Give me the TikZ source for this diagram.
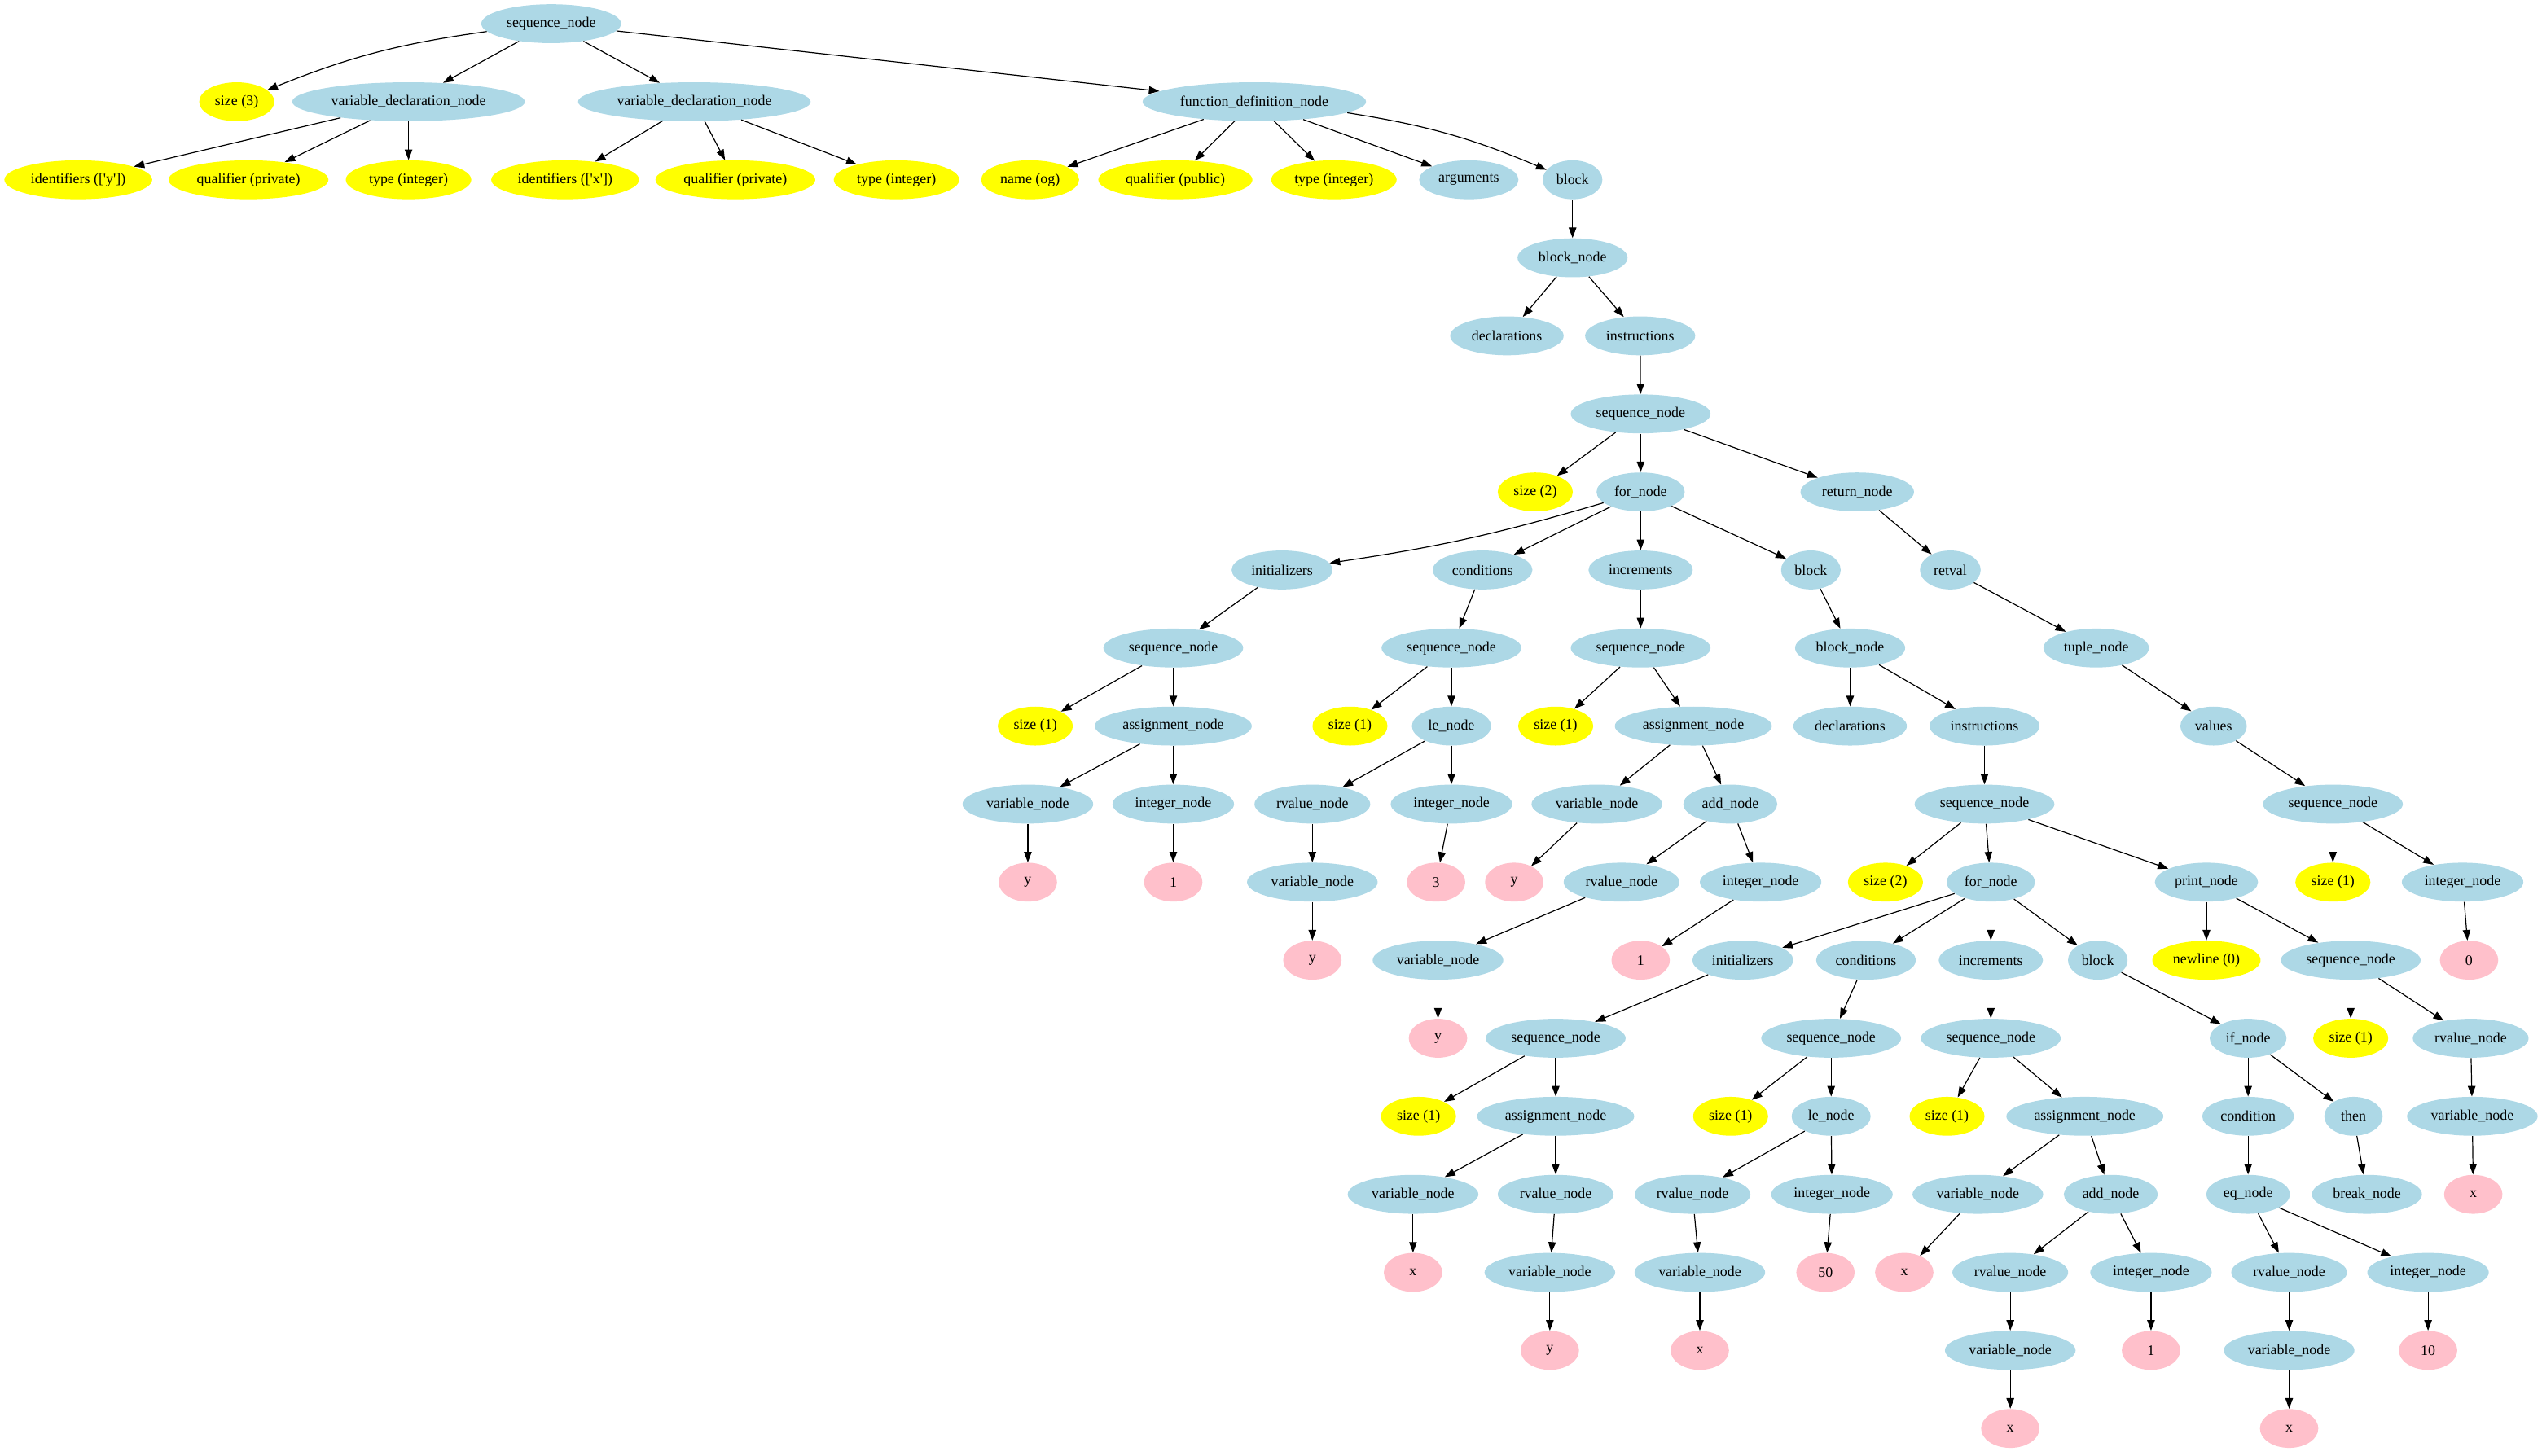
\documentclass[tikz,border=0pt]{standalone}
\usepackage{fontspec}
\setmainfont{Liberation Serif}
\usetikzlibrary{shapes.geometric,arrows.meta}
\definecolor{lb}{HTML}{ADD8E6}
\definecolor{yl}{HTML}{FFFF00}
\definecolor{pk}{HTML}{FFC0CB}
\tikzset{
  base/.style={ellipse, minimum width=36pt, minimum height=24pt, inner xsep=3pt, inner ysep=1pt, font=\fontsize{9}{10}\selectfont},
  bn/.style={base, fill=lb},
  yn/.style={base, fill=yl},
  pn/.style={base, fill=pk},
  edge/.style={-{Triangle[length=6.5pt,width=4.7pt]}, line width=0.6pt},
}
\newcommand{\q}{\textquotesingle}
\begin{document}
\begin{tikzpicture}[x=1pt,y=-1pt]
\useasboundingbox (0,0) rectangle (1568,897.8);
% row 1
\node[bn] (seqA) at (340,14.6) {sequence\_node};
% row 2
\node[yn] (size3) at (146,62.75) {size (3)};
\node[bn] (vdn1) at (252,62.75) {variable\_declaration\_node};
\node[bn] (vdn2) at (428.3,62.75) {variable\_declaration\_node};
\node[bn] (fdn) at (773.7,62.75) {function\_definition\_node};
% row 3
\node[yn] (idy) at (48.3,110.9) {identifiers ([\q y\q])};
\node[yn] (qpr1) at (153.3,110.9) {qualifier (private)};
\node[yn] (tint1) at (252,110.9) {type (integer)};
\node[yn] (idx) at (348.6,110.9) {identifiers ([\q x\q])};
\node[yn] (qpr2) at (453.6,110.9) {qualifier (private)};
\node[yn] (tint2) at (553,110.9) {type (integer)};
\node[yn] (name) at (635.4,110.9) {name (og)};
\node[yn] (qpub) at (725,110.9) {qualifier (public)};
\node[yn] (tint3) at (822.8,110.9) {type (integer)};
\node[bn] (args) at (906,110.9) {arguments};
\node[bn] (block1) at (970,110.9) {block};
% row 4
\node[bn] (bn1) at (970,159.05) {block\_node};
% row 5
\node[bn] (decl1) at (929.5,207.2) {declarations};
\node[bn] (instr1) at (1011.7,207.2) {instructions};
% row 6
\node[bn] (seqB) at (1012,255.35) {sequence\_node};
% row 7
\node[yn] (size2a) at (947,303.5) {size (2)};
\node[bn] (for1) at (1012,303.5) {for\_node};
\node[bn] (ret) at (1145.6,303.5) {return\_node};
% row 8
\node[bn] (init1) at (790.8,351.65) {initializers};
\node[bn] (cond1) at (914.5,351.65) {conditions};
\node[bn] (incr1) at (1012,351.65) {increments};
\node[bn] (block2) at (1117,351.65) {block};
\node[bn] (retval) at (1203,351.65) {retval};
% row 9
\node[bn] (seqC) at (723.7,399.8) {sequence\_node};
\node[bn] (seqD) at (895.3,399.8) {sequence\_node};
\node[bn] (seqE) at (1012,399.8) {sequence\_node};
\node[bn] (bn2) at (1141.2,399.8) {block\_node};
\node[bn] (tuple) at (1293,399.8) {tuple\_node};
% row 10
\node[yn] (size1a) at (638.6,447.95) {size (1)};
\node[bn] (asg1) at (723.7,447.95) {assignment\_node};
\node[yn] (size1b) at (832.7,447.95) {size (1)};
\node[bn] (le1) at (895.3,447.95) {le\_node};
\node[yn] (size1c) at (959.6,447.95) {size (1)};
\node[bn] (asg2) at (1044.5,447.95) {assignment\_node};
\node[bn] (decl2) at (1141.2,447.95) {declarations};
\node[bn] (instr2) at (1224.1,447.95) {instructions};
\node[bn] (values) at (1365.4,447.95) {values};
% row 11
\node[bn] (var1) at (634,496.1) {variable\_node};
\node[bn] (int1) at (723.7,496.1) {integer\_node};
\node[bn] (rv1) at (809.5,496.1) {rvalue\_node};
\node[bn] (int2) at (895.3,496.1) {integer\_node};
\node[bn] (var2) at (985,496.1) {variable\_node};
\node[bn] (add1) at (1067.3,496.1) {add\_node};
\node[bn] (seqF) at (1224.1,496.1) {sequence\_node};
\node[bn] (seqG) at (1439,496.1) {sequence\_node};
% row 12
\node[pn] (y1) at (634,544.25) {y};
\node[pn] (one1) at (723.7,544.25) {1};
\node[bn] (var3) at (809.5,544.25) {variable\_node};
\node[pn] (three) at (885.8,544.25) {3};
\node[pn] (y2) at (934,544.25) {y};
\node[bn] (rv2) at (1000.2,544.25) {rvalue\_node};
\node[bn] (int3) at (1086,544.25) {integer\_node};
\node[yn] (size2b) at (1163,544.25) {size (2)};
\node[bn] (for2) at (1228,544.25) {for\_node};
\node[bn] (print) at (1361,544.25) {print\_node};
\node[yn] (size1d) at (1439,544.25) {size (1)};
\node[bn] (int4) at (1519,544.25) {integer\_node};
% row 13
\node[pn] (y3) at (809.5,592.4) {y};
\node[bn] (var4) at (887,592.4) {variable\_node};
\node[pn] (one2) at (1012,592.4) {1};
\node[bn] (init2) at (1075,592.4) {initializers};
\node[bn] (cond2) at (1151,592.4) {conditions};
\node[bn] (incr2) at (1228,592.4) {increments};
\node[bn] (block3) at (1294,592.4) {block};
\node[yn] (newline) at (1361,592.4) {newline (0)};
\node[bn] (seqH) at (1450,592.4) {sequence\_node};
\node[pn] (zero) at (1523,592.4) {0};
% row 14
\node[pn] (y4) at (887,640.55) {y};
\node[bn] (seqI) at (959.6,640.55) {sequence\_node};
\node[bn] (seqJ) at (1129.5,640.55) {sequence\_node};
\node[bn] (seqK) at (1228,640.55) {sequence\_node};
\node[bn] (if1) at (1386.7,640.55) {if\_node};
\node[yn] (size1e) at (1450,640.55) {size (1)};
\node[bn] (rv3) at (1524,640.55) {rvalue\_node};
% row 15
\node[yn] (size1f) at (875,688.7) {size (1)};
\node[bn] (asg3) at (959.6,688.7) {assignment\_node};
\node[yn] (size1g) at (1067.5,688.7) {size (1)};
\node[bn] (le2) at (1129.5,688.7) {le\_node};
\node[yn] (size1h) at (1201,688.7) {size (1)};
\node[bn] (asg4) at (1286,688.7) {assignment\_node};
\node[bn] (condition) at (1386.7,688.7) {condition};
\node[bn] (then) at (1451.7,688.7) {then};
\node[bn] (var5) at (1525,688.7) {variable\_node};
% row 16
\node[bn] (var6) at (871.6,736.85) {variable\_node};
\node[bn] (rv4) at (959.6,736.85) {rvalue\_node};
\node[bn] (rv5) at (1044,736.85) {rvalue\_node};
\node[bn] (int5) at (1130,736.85) {integer\_node};
\node[bn] (var7) at (1220,736.85) {variable\_node};
\node[bn] (add2) at (1302,736.85) {add\_node};
\node[bn] (eq) at (1386.7,736.85) {eq\_node};
\node[bn] (brk) at (1460,736.85) {break\_node};
\node[pn] (x1) at (1525.6,736.85) {x};
% row 17
\node[pn] (x2) at (871.6,785) {x};
\node[bn] (var8) at (956,785) {variable\_node};
\node[bn] (var9) at (1048.5,785) {variable\_node};
\node[pn] (fifty) at (1126,785) {50};
\node[pn] (x3) at (1174.6,785) {x};
\node[bn] (rv6) at (1240,785) {rvalue\_node};
\node[bn] (int6) at (1326.8,785) {integer\_node};
\node[bn] (rv7) at (1412,785) {rvalue\_node};
\node[bn] (int7) at (1497.7,785) {integer\_node};
% row 18
\node[pn] (y5) at (956,833.15) {y};
\node[pn] (x4) at (1048.5,833.15) {x};
\node[bn] (var10) at (1240,833.15) {variable\_node};
\node[pn] (one3) at (1326.8,833.15) {1};
\node[bn] (var11) at (1412,833.15) {variable\_node};
\node[pn] (ten) at (1497.7,833.15) {10};
% row 19
\node[pn] (x5) at (1240,881.3) {x};
\node[pn] (x6) at (1412,881.3) {x};

% edges
\draw[edge] (seqA) to[bend right=7] (size3);
\foreach \c in {vdn1,vdn2,fdn} \draw[edge] (seqA) -- (\c);
\foreach \c in {idy,qpr1,tint1} \draw[edge] (vdn1) -- (\c);
\foreach \c in {idx,qpr2,tint2} \draw[edge] (vdn2) -- (\c);
\foreach \c in {name,qpub,tint3,args} \draw[edge] (fdn) -- (\c);
\draw[edge] (fdn) to[bend left=7] (block1);
\draw[edge] (block1) -- (bn1);
\foreach \c in {decl1,instr1} \draw[edge] (bn1) -- (\c);
\draw[edge] (instr1) -- (seqB);
\foreach \c in {size2a,for1,ret} \draw[edge] (seqB) -- (\c);
\draw[edge] (for1) to[bend left=4] (init1);
\foreach \c in {cond1,incr1,block2} \draw[edge] (for1) -- (\c);
\draw[edge] (ret) -- (retval);
\draw[edge] (init1) -- (seqC);
\draw[edge] (cond1) -- (seqD);
\draw[edge] (incr1) -- (seqE);
\draw[edge] (block2) -- (bn2);
\draw[edge] (retval) -- (tuple);
\foreach \c in {size1a,asg1} \draw[edge] (seqC) -- (\c);
\foreach \c in {size1b,le1} \draw[edge] (seqD) -- (\c);
\foreach \c in {size1c,asg2} \draw[edge] (seqE) -- (\c);
\foreach \c in {decl2,instr2} \draw[edge] (bn2) -- (\c);
\draw[edge] (tuple) -- (values);
\foreach \c in {var1,int1} \draw[edge] (asg1) -- (\c);
\foreach \c in {rv1,int2} \draw[edge] (le1) -- (\c);
\foreach \c in {var2,add1} \draw[edge] (asg2) -- (\c);
\draw[edge] (instr2) -- (seqF);
\draw[edge] (values) -- (seqG);
\draw[edge] (var1) -- (y1);
\draw[edge] (int1) -- (one1);
\draw[edge] (rv1) -- (var3);
\draw[edge] (int2) -- (three);
\draw[edge] (var2) -- (y2);
\foreach \c in {rv2,int3} \draw[edge] (add1) -- (\c);
\foreach \c in {size2b,for2,print} \draw[edge] (seqF) -- (\c);
\foreach \c in {size1d,int4} \draw[edge] (seqG) -- (\c);
\draw[edge] (var3) -- (y3);
\draw[edge] (rv2) -- (var4);
\draw[edge] (int3) -- (one2);
\foreach \c in {init2,cond2,incr2,block3} \draw[edge] (for2) -- (\c);
\foreach \c in {newline,seqH} \draw[edge] (print) -- (\c);
\draw[edge] (int4) -- (zero);
\draw[edge] (var4) -- (y4);
\draw[edge] (init2) -- (seqI);
\draw[edge] (cond2) -- (seqJ);
\draw[edge] (incr2) -- (seqK);
\draw[edge] (block3) -- (if1);
\foreach \c in {size1e,rv3} \draw[edge] (seqH) -- (\c);
\foreach \c in {size1f,asg3} \draw[edge] (seqI) -- (\c);
\foreach \c in {size1g,le2} \draw[edge] (seqJ) -- (\c);
\foreach \c in {size1h,asg4} \draw[edge] (seqK) -- (\c);
\foreach \c in {condition,then} \draw[edge] (if1) -- (\c);
\draw[edge] (rv3) -- (var5);
\foreach \c in {var6,rv4} \draw[edge] (asg3) -- (\c);
\foreach \c in {rv5,int5} \draw[edge] (le2) -- (\c);
\foreach \c in {var7,add2} \draw[edge] (asg4) -- (\c);
\draw[edge] (condition) -- (eq);
\draw[edge] (then) -- (brk);
\draw[edge] (var5) -- (x1);
\draw[edge] (var6) -- (x2);
\draw[edge] (rv4) -- (var8);
\draw[edge] (rv5) -- (var9);
\draw[edge] (int5) -- (fifty);
\draw[edge] (var7) -- (x3);
\foreach \c in {rv6,int6} \draw[edge] (add2) -- (\c);
\foreach \c in {rv7,int7} \draw[edge] (eq) -- (\c);
\draw[edge] (var8) -- (y5);
\draw[edge] (var9) -- (x4);
\draw[edge] (rv6) -- (var10);
\draw[edge] (int6) -- (one3);
\draw[edge] (rv7) -- (var11);
\draw[edge] (int7) -- (ten);
\draw[edge] (var10) -- (x5);
\draw[edge] (var11) -- (x6);
\end{tikzpicture}
\end{document}
